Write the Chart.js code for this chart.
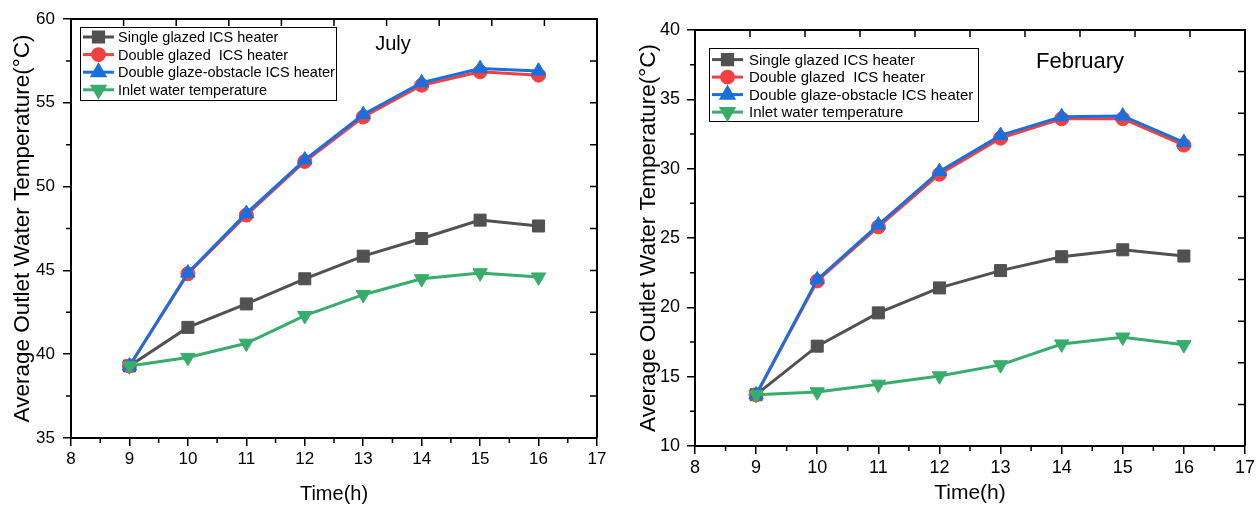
<!DOCTYPE html>
<html>
<head>
<meta charset="utf-8">
<script src="https://cdn.jsdelivr.net/npm/chart.js@4.4.0/dist/chart.umd.min.js"></script>
<style>
  html, body { margin: 0; padding: 0; background: #fff; }
  #wrap { position: relative; width: 1260px; height: 506px; }
  .panel { position: absolute; top: 0; }
</style>
</head>
<body>
<div id="wrap">
  <div class="panel" style="left:0;width:620px;height:506px"><canvas id="july" width="620" height="506"></canvas></div>
  <div class="panel" style="left:626px;width:634px;height:506px"><canvas id="feb" width="634" height="506"></canvas></div>
</div>
<script>
// data
const hours = [9, 10, 11, 12, 13, 14, 15, 16];
const seriesNames = [
  "Single glazed ICS heater",
  "Double glazed  ICS heater",
  "Double glaze-obstacle ICS heater",
  "Inlet water temperature",
];

const julySingle   = [39.3, 41.6, 43.0, 44.5, 45.85, 46.9, 48.0, 47.65];
const julyDouble   = [39.3, 44.8, 48.3, 51.5, 54.15, 56.05, 56.85, 56.65];
const julyObstacle = [39.3, 44.85, 48.4, 51.6, 54.3, 56.2, 57.05, 56.9];
const julyInlet    = [39.3, 39.8, 40.65, 42.3, 43.55, 44.5, 44.85, 44.6];

const febSingle   = [13.7, 17.2, 19.6, 21.4, 22.65, 23.65, 24.15, 23.7];
const febDouble   = [13.7, 21.9, 25.8, 29.6, 32.2, 33.6, 33.6, 31.7];
const febObstacle = [13.7, 22.0, 25.95, 29.8, 32.4, 33.75, 33.8, 31.9];
const febInlet    = [13.7, 13.9, 14.45, 15.05, 15.85, 17.35, 17.85, 17.3];

const colors = ["#515151", "#F14040", "#1A6FDF", "#37AD6B"];
const pointStyles = ["rect", "circle", "triangle", "triangle"];
const rotations = [0, 0, 0, 180];
const radii = [8.5, 7, 8.3, 8.3];
const drawOrder = [4, 3, 2, 1];

Chart.defaults.font.family = "'Liberation Sans', Arial, sans-serif";
Chart.defaults.color = "#000";

// box, minor ticks, legend and month label
const decor = {
  id: "decor",
  afterDraw(chart, args, o) {
    const { ctx, chartArea: a, scales } = chart;
    const xs = scales.x, ys = scales.y;
    ctx.save();
    ctx.strokeStyle = "#000";
    ctx.lineWidth = 2;
    ctx.beginPath();
    ctx.moveTo(a.left, a.top);
    ctx.lineTo(a.right, a.top);
    ctx.lineTo(a.right, a.bottom);
    ctx.stroke();

    ctx.lineWidth = 1.5;
    ctx.beginPath();
    for (let v = xs.min + 0.5; v < xs.max; v += 1) {
      const x = xs.getPixelForValue(v);
      ctx.moveTo(x, a.bottom);
      ctx.lineTo(x, a.bottom + 5);
    }
    for (let v = ys.min + o.yStep / 2; v < ys.max; v += o.yStep) {
      const y = ys.getPixelForValue(v);
      ctx.moveTo(a.left, y);
      ctx.lineTo(a.left - 5, y);
    }
    const w = a.right - a.left, h = a.bottom - a.top;
    for (let i = 1; i < 10; i++) {
      const x = a.left + (i * w) / 10;
      ctx.moveTo(x, a.top);
      ctx.lineTo(x, a.top + 7);
      const y = a.top + (i * h) / 10;
      ctx.moveTo(a.right, y);
      ctx.lineTo(a.right - 7, y);
    }
    ctx.stroke();

    // legend
    const L = o.legend;
    const bx = a.left + L.dx, by = a.top + L.dy;
    ctx.lineWidth = 1;
    ctx.strokeRect(bx + 0.5, by + 0.5, L.w, L.h);
    ctx.font = L.font + "px 'Liberation Sans', Arial, sans-serif";
    ctx.textBaseline = "middle";
    ctx.textAlign = "left";
    chart.data.datasets.forEach((ds, i) => {
      const y = by + L.first + i * L.gap;
      ctx.strokeStyle = ds.borderColor;
      ctx.lineWidth = 3;
      ctx.beginPath();
      ctx.moveTo(bx + 3, y);
      ctx.lineTo(bx + 34, y);
      ctx.stroke();
      ctx.fillStyle = ds.borderColor;
      ctx.strokeStyle = ds.borderColor;
      Chart.helpers.drawPoint(ctx, {
        pointStyle: ds.pointStyle,
        rotation: ds.pointRotation,
        radius: ds.pointRadius * 0.85,
        borderWidth: 1,
      }, bx + 18.5, y);
      ctx.fillStyle = "#000";
      ctx.fillText(ds.label, bx + L.textX, y + 1);
    });

    ctx.font = o.month.font + "px 'Liberation Sans', Arial, sans-serif";
    ctx.textAlign = "center";
    ctx.fillStyle = "#000";
    ctx.fillText(o.month.text, a.left + o.month.dx, a.top + o.month.dy);
    ctx.restore();
  },
};

function makeChart(id, values, c) {
  const datasets = values.map((vals, i) => ({
    label: seriesNames[i],
    data: hours.map((h, k) => ({ x: h, y: vals[k] })),
    borderColor: colors[i],
    backgroundColor: colors[i],
    borderWidth: 3,
    pointStyle: pointStyles[i],
    pointRotation: rotations[i],
    pointRadius: radii[i],
    pointBorderWidth: 1,
    order: drawOrder[i],
    tension: 0,
  }));

  return new Chart(document.getElementById(id), {
    type: "line",
    data: { datasets },
    options: {
      responsive: false,
      animation: false,
      devicePixelRatio: 1,
      layout: { padding: { top: c.padTop, right: c.padRight, left: 0, bottom: 0 } },
      plugins: {
        legend: { display: false },
        tooltip: { enabled: false },
        decor: { yStep: c.yStep, legend: c.legend, month: c.month },
      },
      scales: {
        x: {
          type: "linear",
          min: 8,
          max: 17,
          afterFit: (s) => { s.height = c.xHeight; },
          ticks: { stepSize: 1, font: { size: c.tickFont }, padding: 3, color: "#000" },
          grid: { drawOnChartArea: false, drawTicks: true, tickLength: 8, color: "#000", lineWidth: 1.5 },
          border: { display: true, color: "#000", width: 2 },
          title: { display: true, text: "Time(h)", font: { size: c.xTitleFont }, padding: { top: 0, bottom: 0 } },
        },
        y: {
          type: "linear",
          min: c.yMin,
          max: c.yMax,
          afterFit: (s) => { s.width = c.yWidth; },
          ticks: { stepSize: c.yStep, font: { size: c.tickFont }, padding: c.yTickPad, color: "#000" },
          grid: { drawOnChartArea: false, drawTicks: true, tickLength: 8, color: "#000", lineWidth: 1.5 },
          border: { display: true, color: "#000", width: 2 },
          title: {
            display: true,
            text: "Average Outlet Water Temperature(\u00B0C)",
            font: { size: c.yTitleFont },
            padding: { top: c.yTitlePad, bottom: 0 },
          },
        },
      },
    },
    plugins: [decor],
  });
}

makeChart("july", [julySingle, julyDouble, julyObstacle, julyInlet], {
  yMin: 35, yMax: 60, yStep: 5,
  padTop: 19, padRight: 23, yWidth: 71, xHeight: 68,
  tickFont: 17, xTitleFont: 20, yTickPad: 8, yTitlePad: 9, yTitleFont: 22.5,
  legend: { dx: 9, dy: 8, w: 256, h: 73, first: 10, gap: 17.6, textX: 38, font: 14.5 },
  month: { text: "July", font: 20, dx: 322, dy: 25 },
});

makeChart("feb", [febSingle, febDouble, febObstacle, febInlet], {
  yMin: 10, yMax: 40, yStep: 5,
  padTop: 30, padRight: 15, yWidth: 69, xHeight: 60,
  tickFont: 18, xTitleFont: 21, yTickPad: 7, yTitlePad: 9, yTitleFont: 22.5,
  legend: { dx: 14, dy: 18, w: 269, h: 73, first: 11.6, gap: 17.5, textX: 40, font: 15 },
  month: { text: "February", font: 22, dx: 385, dy: 32 },
});
</script>
</body>
</html>
